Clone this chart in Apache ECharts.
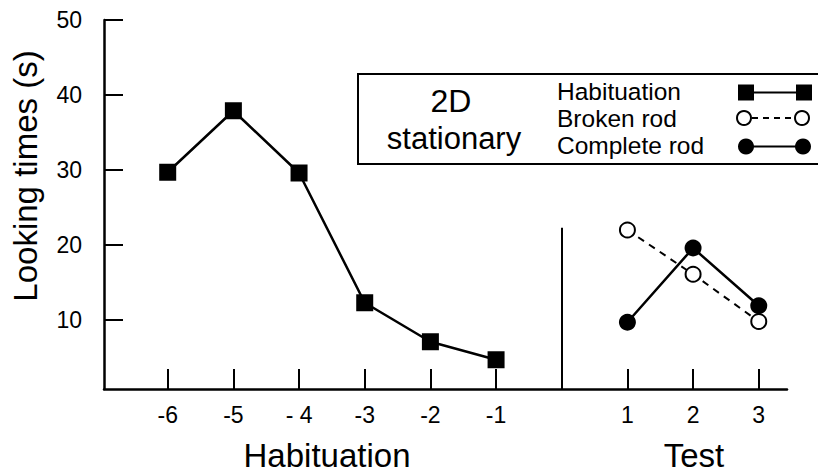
<!DOCTYPE html>
<html><head><meta charset="utf-8">
<script src="https://cdn.jsdelivr.net/npm/echarts@6/dist/echarts.min.js"></script>
<style>html,body{margin:0;padding:0;background:#fff}#c{width:818px;height:473px}</style>
</head><body><div id="c"></div>
<script>
// ---- data ----
const habCategories = ['-6', '-5', '- 4', '-3', '-2', '-1'];
const testCategories = ['1', '2', '3'];
const habituation = [29.7, 37.9, 29.6, 12.3, 7.1, 4.7];
const brokenRod = [22.0, 16.1, 9.8];
const completeRod = [9.7, 19.6, 11.9];
const yTicks = [10, 20, 30, 40, 50];
const separatorTop = 22.3;
const legendTitle = ['2D', 'stationary'];
const legendNames = ['Habituation', 'Broken rod', 'Complete rod'];
const xTitles = ['Habituation', 'Test'];
const yTitle = 'Looking times (s)';

// ---- build ----
const FONT = '"Liberation Sans", Arial, Helvetica, sans-serif';
const sepPos = habCategories.length;
const habPos = habCategories.map((c, i) => i);
const testPos = testCategories.map((c, j) => sepPos + 1 + j);
const labelMap = {};
habCategories.forEach((c, i) => labelMap[habPos[i]] = c);
testCategories.forEach((c, j) => labelMap[testPos[j]] = c);
const xTickVals = habPos.concat(testPos);
const yMin = 0.8;

const chart = echarts.init(document.getElementById('c'), null, {renderer: 'svg'});

function txt(x, y, text, size, align, extra) {
  return Object.assign({type: 'text', x: x, y: y, style: {text: text, font: size + 'px ' + FONT, fill: '#000', align: align, verticalAlign: 'middle'}}, extra || {});
}

const graphic = [
  {type: 'rect', shape: {x: 358, y: 74, width: 480, height: 90}, style: {fill: 'none', stroke: '#000', lineWidth: 2}},
  txt(451, 101, legendTitle[0], 32, 'center'),
  txt(454, 138.5, legendTitle[1], 31, 'center'),
  txt(557, 91.5, legendNames[0], 24.5, 'left'),
  txt(557, 118.5, legendNames[1], 24.5, 'left'),
  txt(557, 145.5, legendNames[2], 24.5, 'left'),
  // habituation sample
  {type: 'line', shape: {x1: 746, y1: 92.5, x2: 804, y2: 92.5}, style: {stroke: '#000', lineWidth: 2}},
  {type: 'rect', shape: {x: 738, y: 84.5, width: 16, height: 16}, style: {fill: '#000'}},
  {type: 'rect', shape: {x: 796, y: 84.5, width: 16, height: 16}, style: {fill: '#000'}},
  // broken sample
  {type: 'line', shape: {x1: 752, y1: 118, x2: 795, y2: 118}, style: {stroke: '#000', lineWidth: 2, lineDash: [6, 5]}},
  {type: 'circle', shape: {cx: 744, cy: 118, r: 7}, style: {fill: '#fff', stroke: '#000', lineWidth: 2}},
  {type: 'circle', shape: {cx: 802, cy: 118, r: 7}, style: {fill: '#fff', stroke: '#000', lineWidth: 2}},
  // complete sample
  {type: 'line', shape: {x1: 746, y1: 146.5, x2: 803, y2: 146.5}, style: {stroke: '#000', lineWidth: 2}},
  {type: 'circle', shape: {cx: 746, cy: 146.5, r: 8}, style: {fill: '#000'}},
  {type: 'circle', shape: {cx: 803, cy: 146.5, r: 8}, style: {fill: '#000'}},
  // axis titles
  txt(327, 455, xTitles[0], 33, 'center'),
  txt(694, 455, xTitles[1], 33, 'center'),
  txt(25, 176, yTitle, 33, 'center', {rotation: Math.PI / 2})
];

const option = {
  animation: false,
  backgroundColor: '#fff',
  grid: {left: 104, right: 31, top: 20, bottom: 84, containLabel: false},
  xAxis: {
    type: 'value', min: -0.97, max: 9.43,
    splitLine: {show: false},
    axisLine: {show: true, onZero: false, lineStyle: {color: '#000', width: 2.5}},
    axisTick: {show: true, inside: true, length: 20, customValues: xTickVals, lineStyle: {color: '#000', width: 2}},
    axisLabel: {show: true, margin: 14, customValues: xTickVals, formatter: v => labelMap[v] ?? '', color: '#000', fontSize: 23, fontFamily: FONT}
  },
  yAxis: {
    type: 'value', min: yMin, max: 50,
    splitLine: {show: false},
    axisLine: {show: true, onZero: false, lineStyle: {color: '#000', width: 2.5}},
    axisTick: {show: true, inside: true, length: 19, customValues: yTicks, lineStyle: {color: '#000', width: 2}},
    axisLabel: {show: true, margin: 22, customValues: yTicks, color: '#000', fontSize: 23, fontFamily: FONT}
  },
  graphic: graphic,
  series: [
    {
      name: legendNames[0], type: 'line',
      data: habituation.map((v, i) => [habPos[i], v]),
      symbol: 'rect', symbolSize: 17,
      itemStyle: {color: '#000'},
      lineStyle: {color: '#000', width: 2.5},
      markLine: {
        silent: true, symbol: ['none', 'none'], label: {show: false},
        lineStyle: {color: '#000', width: 2, type: 'solid'},
        data: [[{coord: [sepPos, yMin]}, {coord: [sepPos, separatorTop]}]]
      }
    },
    {
      name: legendNames[1], type: 'line',
      data: brokenRod.map((v, j) => [testPos[j], v]),
      symbol: 'circle', symbolSize: 15,
      itemStyle: {color: '#fff', borderColor: '#000', borderWidth: 2},
      lineStyle: {color: '#000', width: 2, type: [7, 6]}
    },
    {
      name: legendNames[2], type: 'line',
      data: completeRod.map((v, j) => [testPos[j], v]),
      symbol: 'circle', symbolSize: 17,
      itemStyle: {color: '#000'},
      lineStyle: {color: '#000', width: 2.5}
    }
  ]
};
chart.setOption(option);
</script>
</body></html>
